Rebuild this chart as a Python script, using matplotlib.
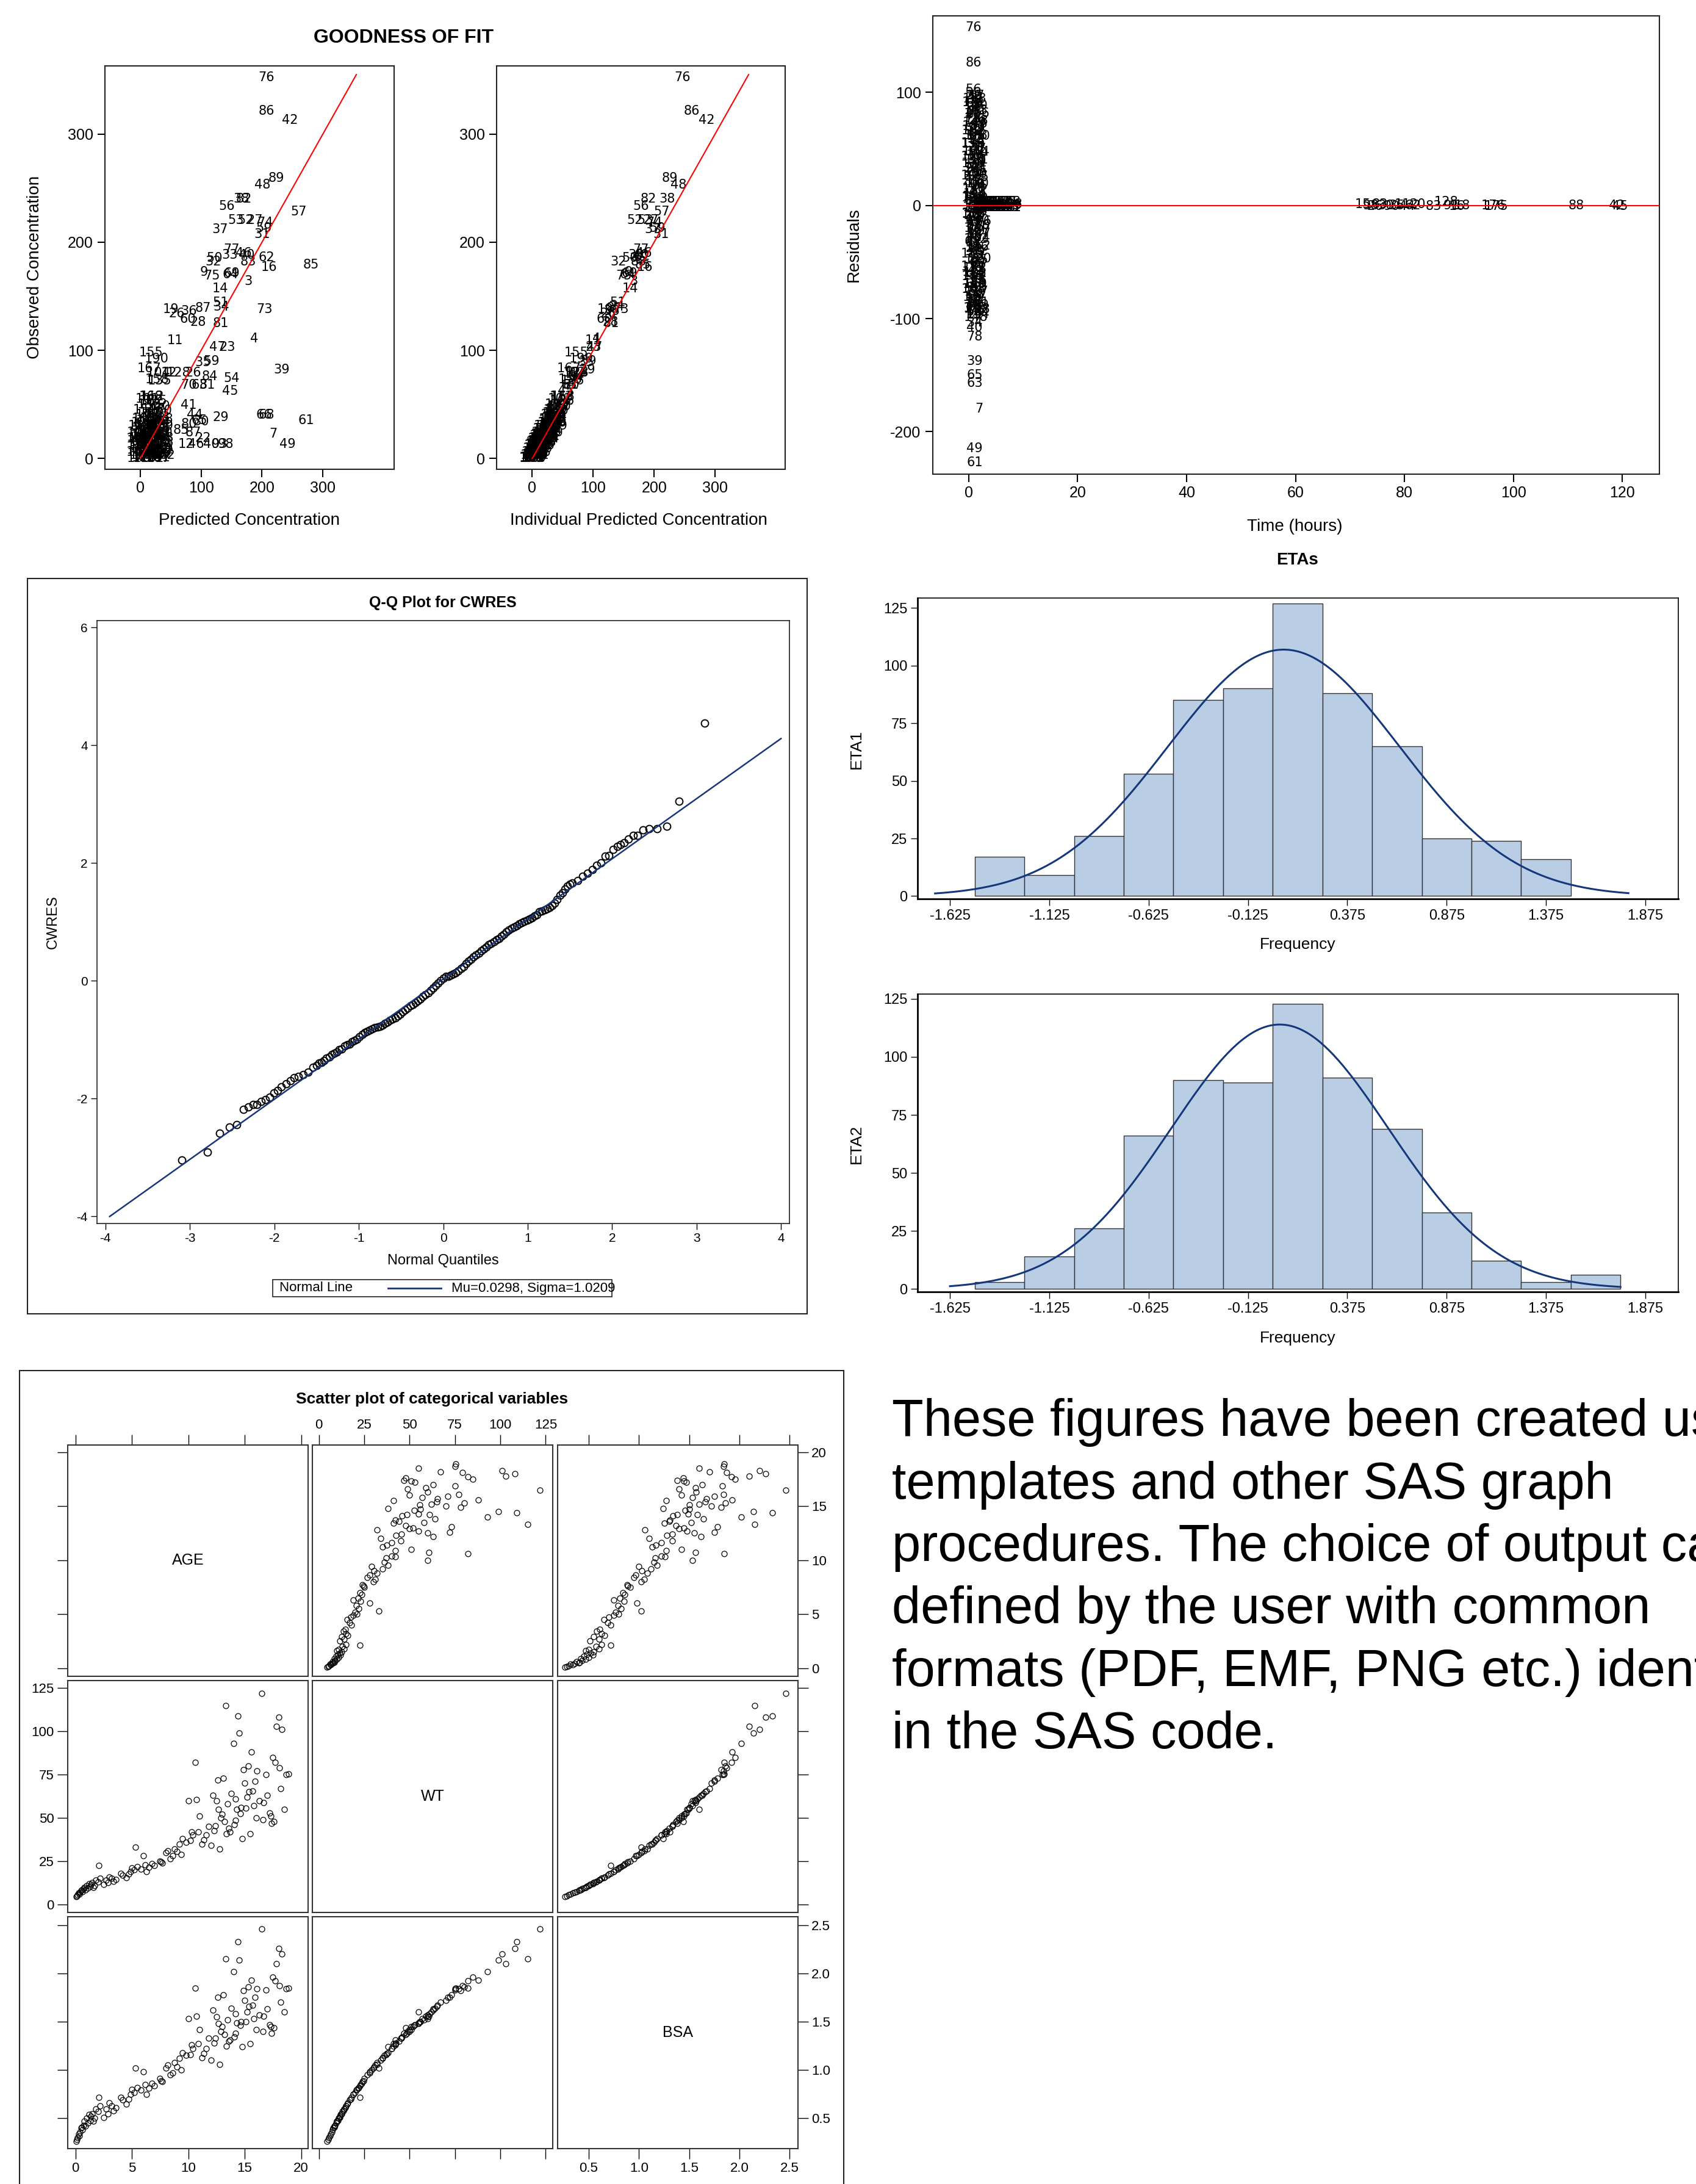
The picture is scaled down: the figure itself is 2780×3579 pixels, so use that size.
import numpy as np
import matplotlib
matplotlib.use('Agg')
import matplotlib.pyplot as plt
from matplotlib.patches import Rectangle
from matplotlib.lines import Line2D
from matplotlib.ticker import FormatStrFormatter

# ---------------- data ----------------
# goodness of fit: labelled observations (subject id, PRED, IPRED, DV)
out_id = [76, 86, 42, 89, 48, 56, 38, 82, 57, 53, 52, 27, 74, 37, 59, 31, 77, 33, 46, 40,
          50, 32, 83, 62, 16, 85, 9, 75, 69, 64, 3, 14, 51, 34, 73, 19, 26, 36, 87, 60,
          28, 81, 11, 4, 47, 23, 155, 190, 35, 59, 39, 167, 104, 12, 128, 26, 84, 54, 158, 135,
          70, 63, 81, 45, 168, 162, 41, 44, 29, 66, 68, 61, 65, 30, 80, 7, 49, 12, 46, 40,
          93, 98, 22, 87, 85, 2]
out_pred = [207, 207, 246, 223, 201, 142, 166, 170, 260, 157, 173, 188, 205, 131, 203, 200, 150, 147, 170, 175,
            122, 120, 177, 207, 212, 281, 105, 118, 150, 148, 177, 131, 132, 133, 204, 50, 60, 80, 103, 78,
            95, 132, 57, 187, 127, 143, 18, 27, 103, 117, 232, 15, 30, 47, 63, 87, 114, 150, 28, 32,
            80, 97, 110, 148, 18, 18, 80, 90, 132, 203, 207, 273, 97, 100, 80, 218, 242, 75, 92, 117,
            130, 140, 103, 87, 67, 47]
out_ipred = [246, 262, 286, 226, 240, 178, 221, 191, 212, 185, 168, 195, 200, 197, 205, 211, 178, 170, 183, 178,
             160, 141, 175, 180, 185, 182, 158, 150, 160, 157, 167, 161, 140, 138, 145, 120, 125, 130, 135, 118,
             128, 130, 100, 105, 102, 100, 72, 80, 88, 92, 90, 60, 70, 75, 73, 78, 72, 70, 62, 66,
             64, 60, 63, 55, 50, 48, 45, 38, 35, 42, 41, 30, 33, 36, 30, 20, 12, 15, 14, 12,
             14, 15, 18, 22, 24, 10]
out_obs = [352, 321, 313, 259, 253, 233, 240, 240, 228, 220, 220, 220, 218, 212, 213, 207, 193, 188, 190, 188,
           185, 182, 182, 186, 177, 179, 172, 169, 171, 170, 164, 157, 144, 140, 138, 138, 134, 136, 139, 129,
           126, 125, 109, 111, 103, 103, 98, 92, 89, 90, 82, 83, 79, 79, 79, 79, 76, 74, 73, 72,
           68, 68, 68, 62, 57, 53, 49, 40, 38, 40, 40, 35, 35, 34, 32, 23, 13, 13, 13, 13,
           13, 13, 19, 24, 26, 8]

# goodness of fit: the dense cloud of low concentrations
low_id = [101, 112, 125, 133, 140, 147, 152, 160, 166, 171,
          178, 183, 188, 104, 118, 127, 136, 144, 150, 157,
          163, 169, 174, 181, 186, 102, 110, 121, 130, 139,
          145, 153, 161, 168, 176, 184, 189, 107, 115, 123,
          131, 142, 149, 156, 164, 172, 179, 185, 103, 111,
          120, 128, 137, 146, 154, 162, 170, 177, 182, 187]
low_pred = [12, 20, 25, 15, 30, 22, 8, 33, 18, 28, 12, 30, 22, 6, 35,
            5, 18, 30, 0, 12, 24, 35, 6, 18, 30, -2, 10, 22, 34, 4, 16, 28,
            -3, 8, 20, 32, 2, 14, 26, 36, -2, 8, 20, 32, 2, 14, 26, 36,
            -3, 8, 20, 32, 2, 14, 26, 38, -2, 8, 20, 30]
low_ipred = [45, 48, 50, 40, 44, 42, 38, 40, 36, 38, 33, 35, 34, 30, 37,
             28, 36, 30, 22, 33, 27, 38, 20, 30, 25, 18, 28, 22, 31, 15, 24, 19,
             12, 21, 16, 25, 9, 18, 14, 20, 6, 15, 11, 17, 4, 12, 8, 14,
             2, 9, 5, 11, 0, 6, 3, 8, -2, 3, 1, 5]
low_obs = [55, 57, 53, 50, 48, 46, 45, 44, 42, 41, 40, 38, 37, 36, 36,
           33, 33, 33, 30, 30, 30, 30, 27, 27, 27, 24, 24, 24, 24, 21, 21, 21,
           18, 18, 18, 18, 15, 15, 15, 15, 12, 12, 12, 12, 9, 9, 9, 9,
           6, 6, 6, 6, 3, 3, 3, 3, 0, 0, 0, 0]
low2_id = [14, 25, 37, 48, 52, 63, 71, 80, 94, 99,
           105, 113, 119, 126, 132, 138, 143, 151, 158, 165,
           173, 180, 15, 27, 33, 44, 58, 66, 78, 85,
           91, 108, 117, 124, 129, 141, 148, 155, 6, 20]
low2_pred = [3, 15, 27, 9, 21, 33, -1, 11, 23, 35,
             5, 17, 29, 0, 12, 24, 36, 7, 19, 31,
             2, 14, 26, 38, 9, 21, 33, 4, 16, 28,
             10, 22, 34, 6, 18, 30, 13, 25, 1, 20]
low2_ipred = [26, 34, 29, 23, 31, 26, 20, 28, 23, 30,
              17, 25, 20, 14, 22, 18, 24, 11, 19, 15,
              8, 16, 12, 18, 5, 13, 9, 2, 10, 6,
              0, 7, 4, -2, 4, 2, 30, 37, -1, 26]
low2_obs = [31, 31, 31, 28, 28, 28, 25, 25, 25, 25,
            22, 22, 22, 19, 19, 19, 19, 16, 16, 16,
            13, 13, 13, 13, 10, 10, 10, 7, 7, 7,
            4, 4, 4, 1, 1, 1, 35, 34, 2, 23]
identity_max = 355

# residuals vs time: labelled extremes (id, hours, residual)
big_id = [76, 86, 56, 30, 37, 34, 40, 78, 39, 65, 63, 7, 49, 61]
big_time = [0.9, 0.9, 0.9, 1.0, 1.2, 1.1, 1.1, 1.1, 1.1, 1.1, 1.1, 1.9, 1.1, 1.1]
big_res = [157, 126, 102, 97, 93, -104, -108, -116, -138, -150, -157, -180, -215, -227]

# residuals vs time: early samples stacked near time 0
stack_id = [55, 17, 123, 8, 61, 140, 25, 93, 156, 3,
            71, 118, 46, 187, 29, 102, 64, 150, 12, 88,
            133, 5, 77, 161, 40, 114, 58, 19, 176, 97,
            24, 145, 66, 109, 2, 81, 170, 36, 127, 53,
            14, 159, 90, 31, 138, 72, 6, 183, 48, 115,
            20, 94, 166, 57, 130, 11, 79, 147, 38, 104,
            68, 1, 152, 27, 99, 185, 43, 120, 9, 86,
            174, 32, 111, 60, 142, 15, 84, 129, 50, 168,
            21, 96, 137, 4, 73, 189, 35, 108, 62, 154]
stack_time = [0.8, 1.5, 1.1, 1.8, 0.9, 1.3, 1.6, 1.0, 1.7, 1.2,
              0.7, 1.4, 1.9, 1.0, 1.6, 0.8, 1.3, 1.8, 1.1, 1.5,
              0.7, 1.2, 1.8, 1.0, 1.9, 0.7, 1.4, 1.8, 0.9, 1.6,
              0.6, 1.3, 1.9, 0.8, 1.7, 0.6, 1.5, 2.0, 1.0, 1.8,
              0.4, 1.1, 2.1, 0.7, 1.6, 2.3, 0.5, 1.4, 1.9, 0.9,
              0.5, 1.2, 2.0, 0.8, 1.8, 0.6, 1.5, 1.9, 1.0, 1.7,
              0.6, 1.3, 1.9, 0.9, 1.6, 0.7, 1.4, 2.0, 1.1, 1.8,
              0.7, 1.5, 1.0, 1.8, 0.8, 1.3, 1.7, 1.1, 1.9, 0.9,
              0.8, 1.4, 1.1, 1.7, 0.9, 1.5, 1.2, 1.8, 1.0, 1.6]
stack_res = [99, 97, 94, 92, 90, 88, 86, 83, 81, 79,
             77, 75, 72, 70, 68, 66, 63, 61, 59, 57,
             55, 52, 50, 48, 46, 43, 41, 39, 37, 34,
             32, 30, 28, 26, 23, 21, 19, 17, 14, 12,
             10, 8, 6, 4, 2, 1, -1, -3, -5, -7,
             -9, -11, -14, -16, -18, -20, -23, -25, -27, -29,
             -32, -34, -36, -38, -41, -43, -45, -47, -50, -52,
             -54, -56, -59, -61, -63, -65, -68, -70, -72, -74,
             -77, -79, -81, -83, -86, -88, -90, -92, -94, -96]
stack2_id = [44, 131, 7, 163, 85, 26, 149, 92, 39, 178,
             13, 116, 70, 144, 33, 181, 59, 101, 22, 135,
             75, 10, 158, 47, 122, 89, 18, 173, 65, 106,
             28, 140, 82, 16, 167, 54, 112, 37, 186, 78,
             3, 125, 69, 151, 41, 98, 23, 179, 58, 117,
             87, 12, 161, 45, 133, 76, 19, 148, 63, 102]
stack2_time = [1.2, 1.0, 1.5, 1.3, 0.9, 1.6, 1.1, 1.4, 1.0, 1.3,
               1.5, 0.9, 1.2, 1.6, 1.0, 1.4, 1.1, 1.3, 0.9, 1.5,
               1.2, 1.6, 1.0, 1.4, 0.8, 1.3, 1.7, 1.1, 1.5, 0.9,
               1.2, 1.6, 1.0, 1.4, 1.8, 1.1, 1.3, 0.9, 1.5, 1.2,
               1.0, 1.4, 1.6, 1.1, 1.3, 0.9, 1.5, 1.2, 1.0, 1.4,
               1.3, 1.1, 1.5, 0.9, 1.2, 1.4, 1.0, 1.3, 1.1, 1.2]
stack2_res = [95, 91, 87, 84, 80, 76, 73, 69, 65, 62,
              58, 54, 51, 47, 44, 40, 36, 33, 29, 25,
              22, 18, 15, 11, 7, 5, 2, -2, -4, -8,
              -10, -13, -17, -19, -22, -26, -30, -33, -37, -40,
              -44, -48, -51, -55, -58, -62, -66, -69, -73, -76,
              -80, -83, -86, -89, -91, -93, -97, -99, -85, -60]

# residuals vs time: samples between 2.5 and 8 hours
band_id = [101, 112, 125, 133, 140, 147, 152, 160, 166, 171, 178,
           183, 188, 104, 118, 127, 136, 144, 150, 157, 163,
           169, 174, 181, 186, 102, 110, 121, 130, 139, 145,
           153, 161, 168]
band_time = [2.4, 2.9, 3.4, 3.9, 4.4, 4.9, 5.4, 5.9, 6.4, 6.9, 7.4,
             2.6, 3.1, 3.6, 4.1, 4.6, 5.1, 5.6, 6.1, 6.6, 7.1,
             7.6, 2.5, 3.0, 3.5, 4.0, 4.5, 5.0, 5.5, 6.0, 6.5,
             7.0, 7.5, 7.7]
band_res = [3, 3, 3, 3, 3, 3, 3, 3, 3, 3, 3,
            0, 0, 0, 0, 0, 0, 0, 0, 0, 0,
            0, -2, -2, -2, -2, -2, -2, -2, -2, -2,
            -2, -2, 1]

# residuals vs time: late samples
late_id = [15, 98, 26, 83, 30, 90, 35, 11, 44, 62, 20, 83, 128, 91, 16, 18, 176, 175, 88, 42, 45]
late_time = [72.4, 73.8, 74.6, 75.5, 76.6, 77.6, 78.6, 79.6, 80.5, 81.5, 82.4, 85.3, 87.6, 88.6,
             89.6, 90.6, 96.3, 96.9, 111.5, 119.0, 119.6]
late_res = [1, 0, -1, 1, 0, -1, 0, 1, -1, 0, 1, -1, 3, 0, -1, 0, 0, -1, 0, 0, -1]

# Q-Q plot of CWRES (normal quantile, CWRES)
qq_q = [-3.096, -2.795, -2.645, -2.53, -2.446, -2.367, -2.307, -2.253, -2.205, -2.157,
        -2.108, -2.054, -2.006, -1.964, -1.916, -1.861, -1.813, -1.765, -1.717, -1.66,
        -1.60, -1.54,
        -1.50, -1.47, -1.44, -1.41, -1.38, -1.35, -1.32, -1.29, -1.26, -1.23,
        -1.20, -1.17, -1.14, -1.11, -1.08, -1.05, -1.02, -0.99, -0.96, -0.93,
        -0.90, -0.87, -0.84, -0.81, -0.78, -0.75, -0.72, -0.69, -0.66, -0.63,
        -0.60, -0.57, -0.54, -0.51, -0.48, -0.45, -0.42, -0.39, -0.36, -0.33,
        -0.30, -0.27, -0.24, -0.21, -0.18, -0.15, -0.12, -0.09, -0.06, -0.03,
        0.00, 0.03, 0.06, 0.09, 0.12, 0.15, 0.18, 0.21, 0.24, 0.27,
        0.30, 0.33, 0.36, 0.39, 0.42, 0.45, 0.48, 0.51, 0.54, 0.57,
        0.60, 0.63, 0.66, 0.69, 0.72, 0.75, 0.78, 0.81, 0.84, 0.87,
        0.90, 0.93, 0.96, 0.99, 1.02, 1.05, 1.08, 1.11, 1.14, 1.17,
        1.20, 1.23, 1.26, 1.29, 1.32, 1.35, 1.38, 1.41, 1.44, 1.47,
        1.50,
        1.53, 1.59, 1.65, 1.71, 1.77, 1.82, 1.87, 1.92, 1.96, 2.01,
        2.06, 2.10, 2.14, 2.19, 2.25, 2.30, 2.367, 2.44, 2.53, 2.645,
        2.795, 3.096]
qq_cwres = [-3.04, -2.91, -2.59, -2.48, -2.44, -2.18, -2.14, -2.10, -2.10, -2.05,
            -2.02, -1.98, -1.90, -1.86, -1.80, -1.75, -1.70, -1.65, -1.62, -1.59,
            -1.55, -1.47,
            -1.44, -1.40, -1.39, -1.35, -1.31, -1.29, -1.25, -1.23, -1.21, -1.17,
            -1.16, -1.11, -1.09, -1.07, -1.03, -1.01, -0.99, -0.95, -0.91, -0.88,
            -0.86, -0.84, -0.82, -0.80, -0.79, -0.77, -0.75, -0.72, -0.70, -0.67,
            -0.65, -0.63, -0.60, -0.57, -0.53, -0.49, -0.46, -0.42, -0.40, -0.37,
            -0.34, -0.31, -0.27, -0.24, -0.20, -0.16, -0.12, -0.08, -0.04, 0.00,
            0.04, 0.07, 0.08, 0.10, 0.12, 0.14, 0.17, 0.21, 0.24, 0.29,
            0.33, 0.37, 0.41, 0.44, 0.47, 0.51, 0.54, 0.57, 0.61, 0.63,
            0.67, 0.70, 0.72, 0.76, 0.79, 0.83, 0.86, 0.89, 0.91, 0.94,
            0.97, 0.99, 1.01, 1.03, 1.05, 1.07, 1.10, 1.12, 1.17, 1.18,
            1.20, 1.23, 1.25, 1.28, 1.32, 1.38, 1.45, 1.50, 1.56, 1.61,
            1.64,
            1.66, 1.70, 1.77, 1.83, 1.89, 1.96, 2.00, 2.12, 2.13, 2.23,
            2.28, 2.31, 2.34, 2.41, 2.47, 2.47, 2.56, 2.58, 2.58, 2.62,
            3.05, 4.38]
qq_mu = 0.0298
qq_sigma = 1.0209

# ETA histograms
eta_width = 0.25
eta1_left = [-1.5, -1.25, -1.0, -0.75, -0.5, -0.25, 0.0, 0.25, 0.5, 0.75, 1.0, 1.25]
eta1_count = [17, 9, 26, 53, 85, 90, 127, 88, 65, 25, 24, 16]
eta2_left = [-1.5, -1.25, -1.0, -0.75, -0.5, -0.25, 0.0, 0.25, 0.5, 0.75, 1.0, 1.25, 1.5]
eta2_count = [3, 14, 26, 66, 90, 89, 123, 91, 69, 33, 12, 3, 6]
eta1_fit = (0.055, 0.583)
eta2_fit = (0.035, 0.547)
eta1_span = (-1.70, 1.79)
eta2_span = (-1.625, 1.75)
eta_ticks = [-1.625, -1.125, -0.625, -0.125, 0.375, 0.875, 1.375, 1.875]

# covariates per subject
age = [0.1, 0.15, 0.2, 0.3, 0.4, 0.5, 0.6, 0.7, 0.8, 0.9,
       1.0, 1.1, 1.2, 1.3, 1.4, 1.5, 1.7, 1.8, 2.0, 2.1,
       2.2, 2.5, 2.7, 2.9, 3.0, 3.2, 3.4, 3.6, 4.0, 4.2,
       4.5, 4.7, 4.9, 5.0, 5.2, 5.3, 5.5, 5.8, 6.0, 6.2,
       6.3, 6.5, 6.8, 7.0, 7.5, 7.7, 8.0, 8.2, 8.4, 8.6,
       8.8, 9.0, 9.2, 9.4, 9.5, 9.8, 10.0, 10.2, 10.4, 10.6,
       10.7, 10.9, 11.0, 11.2, 11.4, 11.8, 12.0, 12.2, 12.3, 12.5,
       12.6, 12.7, 12.8, 12.9, 13.0, 13.1, 13.2, 13.3, 13.4, 13.5,
       13.6, 13.8, 14.0, 14.1, 14.2, 14.3, 14.4, 14.5, 14.6, 14.7,
       14.8, 14.9, 15.0, 15.1, 15.2, 15.3, 15.4, 15.5, 15.6, 15.7,
       15.8, 16.0, 16.1, 16.3, 16.5, 16.6, 16.7, 16.9, 17.0, 17.2,
       17.4, 17.5, 17.7, 17.8, 18.0, 18.1, 18.2, 18.3, 18.5, 18.7,
       17.6, 17.3, 15.9, 14.2, 13.7, 12.4, 11.6, 10.3, 7.6, 0.35,
       0.55, 1.6, 18.9]
wt = [4.5, 5.0, 5.5, 6.5, 7.0, 8.0, 7.5, 9.0, 10.0, 8.5,
      11.0, 9.5, 12.0, 10.5, 11.5, 12.5, 11.0, 14.0, 13.0, 22.5,
      15.0, 11.5, 14.0, 12.5, 16.0, 15.0, 13.5, 14.5, 18.0, 17.0,
      15.5, 17.5, 19.0, 21.0, 20.0, 33.0, 22.0, 20.5, 28.0, 23.0,
      19.0, 21.5, 23.5, 22.5, 25.0, 24.0, 30.0, 31.0, 26.5, 28.0,
      32.0, 30.5, 35.0, 29.0, 38.0, 36.0, 60.0, 37.0, 40.0, 82.0,
      60.5, 42.0, 51.0, 35.0, 37.5, 45.0, 34.0, 63.0, 42.5, 60.0,
      72.0, 55.0, 32.0, 50.0, 52.0, 73.0, 48.0, 115.0, 41.0, 58.0,
      44.0, 64.0, 93.0, 46.0, 61.0, 55.0, 109.0, 99.0, 52.5, 56.0,
      38.0, 78.0, 70.0, 55.5, 62.0, 80.0, 65.0, 41.0, 88.0, 65.5,
      57.0, 50.0, 77.0, 60.0, 122.0, 49.0, 59.0, 75.0, 63.0, 53.0,
      47.0, 85.0, 82.0, 103.0, 108.0, 79.0, 67.0, 101.0, 55.0, 75.0,
      48.0, 51.0, 71.0, 48.5, 42.0, 45.5, 40.0, 42.0, 24.5, 6.0,
      8.5, 10.0, 75.5]
bsa = [0.26, 0.28, 0.30, 0.34, 0.36, 0.40, 0.38, 0.43, 0.47, 0.42,
       0.50, 0.45, 0.54, 0.48, 0.52, 0.55, 0.50, 0.60, 0.57, 0.72,
       0.63, 0.51, 0.60, 0.55, 0.66, 0.63, 0.58, 0.61, 0.72, 0.69,
       0.65, 0.70, 0.75, 0.80, 0.77, 1.02, 0.82, 0.79, 0.98, 0.85,
       0.75, 0.81, 0.86, 0.84, 0.91, 0.88, 1.02, 1.05, 0.95, 0.97,
       1.08, 1.03, 1.12, 1.00, 1.18, 1.15, 1.53, 1.16, 1.22, 1.85,
       1.56, 1.27, 1.42, 1.13, 1.17, 1.33, 1.10, 1.62, 1.28, 1.55,
       1.75, 1.48, 1.06, 1.40, 1.45, 1.78, 1.37, 2.15, 1.25, 1.52,
       1.30, 1.64, 2.02, 1.34, 1.58, 1.49, 2.33, 2.14, 1.46, 1.50,
       1.24, 1.82, 1.72, 1.50, 1.60, 1.86, 1.66, 1.27, 1.93, 1.67,
       1.53, 1.42, 1.84, 1.57, 2.46, 1.40, 1.56, 1.83, 1.63, 1.47,
       1.38, 1.96, 1.92, 2.10, 2.26, 1.87, 1.70, 2.20, 1.60, 1.84,
       1.44, 1.45, 1.75, 1.38, 1.31, 1.33, 1.22, 1.26, 0.89, 0.32,
       0.41, 0.47, 1.85]
cov_names = ['AGE', 'WT', 'BSA']
cov_ticks = [[0, 5, 10, 15, 20], [0, 25, 50, 75, 100, 125], [0.5, 1.0, 1.5, 2.0, 2.5]]

caption = ['These figures have been created using',
           'templates and other SAS graph',
           'procedures. The choice of output can be',
           'defined by the user with common',
           'formats (PDF, EMF, PNG etc.) identified',
           'in the SAS code.']

# ---------------- drawing ----------------
W, H = 2780, 3579
plt.rcParams['font.family'] = ['Liberation Sans', 'DejaVu Sans']
plt.rcParams['axes.unicode_minus'] = False
NAVY = '#14367a'
BAR = '#b9cde5'
ID_FONT = dict(ha='center', va='center', fontsize=15, family='DejaVu Sans', clip_on=True)

fig = plt.figure(figsize=(W / 100, H / 100), dpi=100)


def add_ax(x0, y0, x1, y1):
    # pixel box measured from the top-left corner
    return fig.add_axes([x0 / W, 1 - y1 / H, (x1 - x0) / W, (y1 - y0) / H])


def put(x, y, s, **kw):
    fig.text(x / W, 1 - y / H, s, **kw)


def frame(ax, lw=1.5, color='#222222'):
    for sp in ax.spines.values():
        sp.set_linewidth(lw)
        sp.set_color(color)


# goodness of fit
put(662, 62, 'GOODNESS OF FIT', ha='center', va='center', fontsize=23, fontweight='bold')
gof_boxes = [(172, 646, -58, 417, out_pred, low_pred, low2_pred, 'Predicted Concentration', 408),
             (814, 1287, -58.5, 415, out_ipred, low_ipred, low2_ipred,
              'Individual Predicted Concentration', 1047)]
for x0, x1, xl0, xl1, xo, xb, xb2, xlab, xc in gof_boxes:
    ax = add_ax(x0, 108, x1, 769)
    for ids, xs, ys in [(low_id, xb, low_obs), (low2_id, xb2, low2_obs), (out_id, xo, out_obs)]:
        for i, x, y in zip(ids, xs, ys):
            ax.text(x, y, str(i), **ID_FONT)
    ax.plot([0, identity_max], [0, identity_max], color='red', lw=1.5, zorder=5)
    ax.set_xlim(xl0, xl1)
    ax.set_ylim(-10, 363)
    ax.set_xticks([0, 100, 200, 300])
    ax.set_yticks([0, 100, 200, 300])
    ax.tick_params(direction='out', length=9, width=1.5, pad=5, labelsize=18)
    frame(ax)
    put(xc, 853, xlab, ha='center', va='center', fontsize=20)
put(57, 438, 'Observed Concentration', ha='center', va='center', rotation=90, fontsize=20)

# residuals vs time
ax = add_ax(1529, 26, 2720, 777)
for ids, ts, rs in [(stack_id, stack_time, stack_res), (stack2_id, stack2_time, stack2_res),
                    (band_id, band_time, band_res), (big_id, big_time, big_res),
                    (late_id, late_time, late_res)]:
    for i, t, r in zip(ids, ts, rs):
        ax.text(t, r, str(i), **ID_FONT)
ax.axhline(0, color='red', lw=1.5, zorder=5)
ax.set_xlim(-6.6, 126.8)
ax.set_ylim(-237.5, 167.5)
ax.set_xticks(range(0, 121, 20))
ax.set_yticks([-200, -100, 0, 100])
ax.tick_params(direction='out', length=9, width=1.5, pad=5, labelsize=18)
frame(ax)
put(1400, 401, 'Residuals', ha='center', va='center', rotation=90, fontsize=20)
put(2122, 863, 'Time (hours)', ha='center', va='center', fontsize=20)

# Q-Q plot
fig.add_artist(Rectangle((45 / W, 1 - 2153 / H), (1323 - 45) / W, (2153 - 948) / H,
                         transform=fig.transFigure, fill=False, ec='#222222', lw=1.5))
put(726, 988, 'Q-Q Plot for CWRES', ha='center', va='center', fontsize=18, fontweight='bold')
ax = add_ax(159, 1017, 1294, 2005)
line_x = np.array([-3.95, 4.0])
ax.plot(line_x, qq_mu + qq_sigma * line_x, color=NAVY, lw=1.8, zorder=3)
ax.plot(qq_q, qq_cwres, 'o', mfc='none', mec='black', ms=8.5, mew=1.4, zorder=2)
ax.set_xlim(-4.1, 4.1)
ax.set_ylim(-4.122, 6.117)
ax.set_xticks(range(-4, 5))
ax.set_yticks(range(-4, 7, 2))
ax.tick_params(direction='out', length=7, width=1, pad=4, labelsize=15)
frame(ax, 1.2)
put(726, 2066, 'Normal Quantiles', ha='center', va='center', fontsize=17)
put(87, 1511, 'CWRES', ha='center', va='center', rotation=90, fontsize=17)
fig.add_artist(Rectangle((447 / W, 1 - 2125 / H), (1003 - 447) / W, 28 / H,
                         transform=fig.transFigure, fill=False, ec='#222222', lw=1.2))
put(458, 2111, 'Normal Line', ha='left', va='center', fontsize=16)
fig.add_artist(Line2D([636 / W, 723 / W], [1 - 2111 / H, 1 - 2111 / H],
                      transform=fig.transFigure, color=NAVY, lw=2))
put(740, 2111, 'Mu=%.4f, Sigma=%.4f' % (qq_mu, qq_sigma), ha='left', va='center', fontsize=16)

# ETA histograms
put(2127, 918, 'ETAs', ha='center', va='center', fontsize=20, fontweight='bold')
eta_sets = [(980, 1473, 129.3, -1.2, eta1_left, eta1_count, eta1_fit, eta1_span, 'ETA1', 1228, 1548),
            (1629, 2117, 127.1, -1.3, eta2_left, eta2_count, eta2_fit, eta2_span, 'ETA2', 1875, 2193)]
for y0, y1, top, bot, left, count, fit, span, name, ymid, yfreq in eta_sets:
    ax = add_ax(1504, y0, 2751, y1)
    ax.bar(left, count, width=eta_width, align='edge', color=BAR, edgecolor='#333333', lw=1)
    mu, sd = fit
    xs = np.linspace(span[0], span[1], 300)
    dens = sum(count) * eta_width * np.exp(-0.5 * ((xs - mu) / sd) ** 2) / (sd * np.sqrt(2 * np.pi))
    ax.plot(xs, dens, color=NAVY, lw=2.2)
    ax.set_xlim(-1.788, 2.041)
    ax.set_ylim(bot, top)
    ax.set_xticks(eta_ticks)
    ax.set_xticklabels(['%.3f' % t for t in eta_ticks])
    ax.set_yticks(range(0, 126, 25))
    ax.tick_params(direction='out', length=8, width=1, pad=4, labelsize=17)
    frame(ax, 1.2, 'black')
    ax.spines['left'].set_linewidth(2)
    ax.spines['bottom'].set_linewidth(2)
    put(1404, ymid, name, ha='center', va='center', rotation=90, fontsize=19)
    put(2127, yfreq, 'Frequency', ha='center', va='center', fontsize=19)

# scatter matrix of covariates
fig.add_artist(Rectangle((31.5 / W, 1 - 3650 / H), (1383 - 31.5) / W, (3650 - 2246) / H,
                         transform=fig.transFigure, fill=False, ec='#222222', lw=1.5))
put(708, 2293, 'Scatter plot of categorical variables', ha='center', va='center',
    fontsize=19, fontweight='bold')
cov = [age, wt, bsa]
cov_xlim = [(-0.68, 20.62), (-3.6, 128.9), (0.19, 2.583)]
cov_ylim = [(-0.76, 20.66), (-4.6, 129.3), (0.187, 2.586)]
cols = [(111, 505), (512, 906), (914, 1308)]
rows = [(2368, 2747), (2754, 3134), (3141, 3521)]
for r in range(3):
    for c in range(3):
        ax = add_ax(cols[c][0], rows[r][0], cols[c][1], rows[r][1])
        if r == c:
            ax.text(0.5, 0.5, cov_names[r], transform=ax.transAxes, ha='center', va='center', fontsize=18)
        else:
            ax.plot(cov[c], cov[r], 'o', mfc='none', mec='black', ms=6.5, mew=0.9)
        ax.set_xlim(cov_xlim[c])
        ax.set_ylim(cov_ylim[r])
        ax.set_xticks(cov_ticks[c])
        ax.set_yticks(cov_ticks[r])
        if c == 2:
            ax.xaxis.set_major_formatter(FormatStrFormatter('%.1f'))
        if r == 2:
            ax.yaxis.set_major_formatter(FormatStrFormatter('%.1f'))
        ax.tick_params(direction='out', length=12, width=1, labelsize=16, pad=4,
                       top=(r == 0), bottom=(r == 2), left=(c == 0), right=(c == 2),
                       labeltop=(r == 0 and c == 1), labelbottom=(r == 2 and c != 1),
                       labelleft=(c == 0 and r == 1), labelright=(c == 2 and r != 1))
        frame(ax, 1.5, '#333333')

# caption text
for k, line in enumerate(caption):
    put(1462, 2353 + k * 102.5, line, ha='left', va='baseline', fontsize=61)

fig.savefig('out.png', dpi=100)
